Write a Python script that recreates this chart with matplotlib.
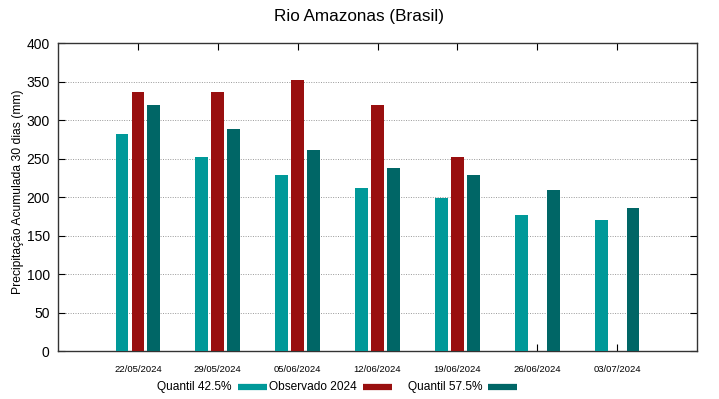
import matplotlib
matplotlib.use("Agg")
import matplotlib.pyplot as plt
from matplotlib.lines import Line2D
import numpy as np

plt.rcParams['font.family'] = ['Liberation Sans', 'DejaVu Sans']

dates = ["22/05/2024", "29/05/2024", "05/06/2024", "12/06/2024",
         "19/06/2024", "26/06/2024", "03/07/2024"]
q425 = [282, 252, 228, 212, 199, 177, 170]
obs2024 = [336, 336, 352, 320, 252, np.nan, np.nan]
q575 = [319, 288, 261, 238, 229, 209, 186]
series_labels = ["Quantil 42.5%", "Observado 2024", "Quantil 57.5%"]
colors = ["#009999", "#990f0f", "#006666"]

fig = plt.figure(figsize=(7.19, 3.99), dpi=100)
ax = fig.add_axes([0.0807, 0.1203, 0.9694 - 0.0807, 0.8922 - 0.1203])

x = np.arange(1, len(dates) + 1)
w = 0.16
off = 0.2
for i, (vals, c) in enumerate(zip([q425, obs2024, q575], colors)):
    ax.bar(x + (i - 1) * off, vals, width=w, color=c, edgecolor='none', zorder=3)

ax.set_xlim(0, 8)
ax.set_ylim(0, 400)
ax.set_yticks(np.arange(0, 401, 50))
ax.set_xticks(x)
ax.set_xticklabels(dates, fontsize=6.8)
ax.tick_params(axis='y', labelsize=10, direction='in', length=5, right=True, pad=6)
ax.tick_params(axis='x', direction='in', length=5, top=True, pad=10)
for yv in np.arange(50, 401, 50):
    ax.axhline(yv, color='#999999', linestyle=(0, (1, 1.5)), linewidth=0.7, zorder=1)
for s in ax.spines.values():
    s.set_color('#333333')
    s.set_linewidth(1.0)
fig.text(18 / 719, 1 - 192 / 399, "Precipitação Acumulada 30 dias (mm)",
         rotation=90, ha='center', va='center', fontsize=8.7)

fig.text(0.5, 0.958, "Rio Amazonas (Brasil)", ha='center', va='center', fontsize=12.3)

# legend (gnuplot style: text then sample)
leg_y = 1 - 387 / 399
text_right = [232, 357, 482]
for lab, c, tr in zip(series_labels, colors, text_right):
    fig.text(tr / 719, leg_y, lab, ha='right', va='center', fontsize=8.6)
    fig.add_artist(Line2D([(tr + 6) / 719, (tr + 35) / 719], [leg_y, leg_y],
                          color=c, linewidth=4.5, solid_capstyle='butt'))

fig.savefig("out.png", dpi=100)
